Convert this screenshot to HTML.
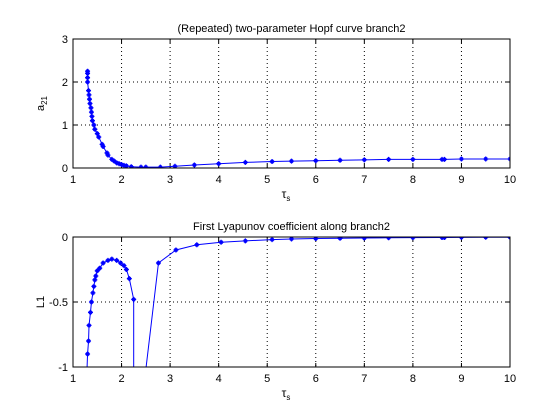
<!DOCTYPE html>
<html><head><meta charset="utf-8"><style>
html,body{margin:0;background:#fff;width:560px;height:420px;overflow:hidden;}
svg{font-family:"Liberation Sans",sans-serif;display:block;}
</style></head><body>
<svg id="c" width="560" height="420" viewBox="0 0 560 420">
<defs>
<clipPath id="cp1"><rect x="73" y="39" width="437" height="129"/></clipPath>
<clipPath id="cp2"><rect x="73" y="237" width="437" height="130"/></clipPath>
</defs>
</svg>
<script>
const xTicks=[1,2,3,4,5,6,7,8,9,10];
const y1Ticks=[0,1,2,3];
const y2Ticks=[-1,-0.5,0];
const y2TickLabels=['-1','-0.5','0'];
const tau1=[1.3,1.3,1.3,1.3,1.32,1.33,1.34,1.35,1.37,1.38,1.39,1.4,1.43,1.45,1.5,1.53,1.6,1.62,1.7,1.72,1.8,1.85,1.9,1.95,2.0,2.05,2.1,2.2,2.4,2.5,2.8,3.1,3.5,4.0,4.55,5.1,5.5,6.0,6.5,7.0,7.5,8.0,8.6,8.65,9.0,9.5,10.0];
const a21=[2.25,2.2,2.1,2.0,1.8,1.7,1.6,1.5,1.4,1.3,1.2,1.1,1.0,0.9,0.8,0.72,0.55,0.5,0.35,0.3,0.2,0.16,0.12,0.1,0.08,0.06,0.05,0.03,0.02,0.02,0.02,0.04,0.07,0.1,0.13,0.15,0.16,0.17,0.18,0.19,0.2,0.2,0.2,0.2,0.21,0.21,0.21];
const tau2=[1.29,1.3,1.32,1.33,1.36,1.38,1.41,1.43,1.45,1.47,1.5,1.55,1.62,1.72,1.8,1.9,1.98,2.05,2.1,2.16,2.25,2.25,2.49,2.76,3.12,3.55,4.05,4.55,5.1,5.5,6.0,6.5,7.0,7.5,8.0,8.6,8.65,9.0,9.5,10.0];
const L1=[-1.0,-0.9,-0.8,-0.68,-0.58,-0.5,-0.43,-0.38,-0.33,-0.3,-0.26,-0.24,-0.2,-0.18,-0.17,-0.18,-0.2,-0.22,-0.25,-0.32,-0.48,-1.2,-1.05,-0.2,-0.1,-0.06,-0.04,-0.03,-0.02,-0.015,-0.012,-0.01,-0.008,-0.006,-0.005,-0.004,-0.004,-0.003,-0.002,-0.002];
const noMark=new Set([0,21,22]);
const svg=document.getElementById('c');
const NS='http://www.w3.org/2000/svg';
function el(t,a,p){const e=document.createElementNS(NS,t);for(const k in a)e.setAttribute(k,a[k]);(p||svg).appendChild(e);return e;}
const X=v=>73+(v-1)*437/9;
function panel(top,h,ymin,ymax,yt,ytl,xs,ys,title,ylab,cp,idx){
  const Y=v=>top+h-(v-ymin)*h/(ymax-ymin);
  const g=el('g',{});
  
  
  el('rect',{x:73,y:top,width:437,height:h,fill:'#fff',stroke:'none'},g);
  xTicks.forEach(t=>{
    if(t>1&&t<10){const l=el('line',{x1:X(t),x2:X(t),y1:top,y2:top+h,stroke:'#000','stroke-width':1,'stroke-dasharray':'1,3'},g);}
    el('line',{x1:X(t),x2:X(t),y1:top+h,y2:top+h-4,stroke:'#000'},g);
    el('line',{x1:X(t),x2:X(t),y1:top,y2:top+4,stroke:'#000'},g);
    const tx=el('text',{x:X(t),y:top+h+15,'font-size':11,'text-anchor':'middle'},g);tx.textContent=t;
    
  });
  yt.forEach((t,i)=>{
    if(t>ymin&&t<ymax){const l=el('line',{x1:73,x2:510,y1:Y(t),y2:Y(t),stroke:'#000','stroke-dasharray':'1,3'},g);}
    el('line',{x1:73,x2:77,y1:Y(t),y2:Y(t),stroke:'#000'},g);
    el('line',{x1:506,x2:510,y1:Y(t),y2:Y(t),stroke:'#000'},g);
    const tx=el('text',{x:68,y:Y(t)+4,'font-size':11,'text-anchor':'end'},g);tx.textContent=ytl[i];
    
  });
  const dg=el('g',{'clip-path':'url(#'+cp+')'},g);
  const pl=el('polyline',{points:xs.map((x,i)=>X(x)+','+Y(ys[i])).join(' '),fill:'none',stroke:'#00f','stroke-width':1},dg);
  
  xs.forEach((x,i)=>{
    if(idx==2&&noMark.has(i))return;
    const cx=X(x),cy=Y(ys[i]);
    const m=el('path',{d:`M${cx-2.5},${cy}h5M${cx},${cy-2.5}v5M${cx-1.5},${cy-1.5}l3,3M${cx-1.5},${cy+1.5}l3,-3`,stroke:'#00f','stroke-width':1.3},dg);
    
  });
  const b=el('rect',{x:73,y:top,width:437,height:h,fill:'none',stroke:'#000'},g);
  
  const ti=el('text',{x:291.5,y:top-7,'font-size':11,'text-anchor':'middle'},g);ti.textContent=title;
  
  const xl=el('text',{x:286,y:top+h+30,'font-size':12,'text-anchor':'middle'},g);
  xl.innerHTML='τ<tspan font-size="8" dy="3">s</tspan>';
  
  const yl=el('text',{transform:`translate(44,${top+h/2}) rotate(-90)`,'font-size':11,'text-anchor':'middle'},g);
  yl.innerHTML=ylab;
  
}
panel(39,129,0,3,y1Ticks,y1Ticks.map(String),tau1,a21,'(Repeated) two-parameter Hopf curve branch2','a<tspan font-size="8" dy="3">21</tspan>','cp1',1);
panel(237,130,-1,0,y2Ticks,y2TickLabels,tau2,L1,'First Lyapunov coefficient along branch2','L1','cp2',2);
</script>
</body></html>
